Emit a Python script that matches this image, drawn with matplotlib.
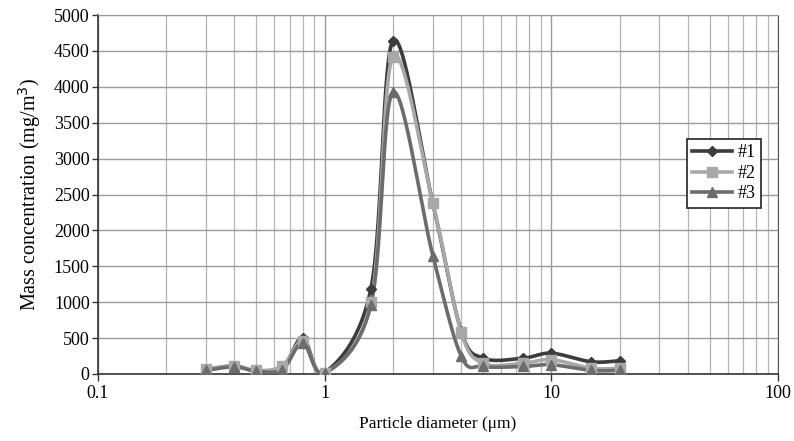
import numpy as np
import matplotlib
matplotlib.use("Agg")
import matplotlib.pyplot as plt
from matplotlib.lines import Line2D

diameters = [0.3, 0.4, 0.5, 0.65, 0.8, 1.0, 1.6, 2.0, 3.0, 4.0, 5.0, 7.5, 10, 15, 20]
series_1 = [60, 110, 40, 80, 500, 20, 1190, 4640, 2380, 600, 220, 220, 290, 170, 185]
series_2 = [70, 115, 50, 110, 460, 20, 1000, 4420, 2380, 590, 150, 150, 200, 80, 80]
series_3 = [50, 100, 40, 60, 430, 10, 960, 3925, 1650, 250, 105, 105, 130, 50, 50]
labels = ["#1", "#2", "#3"]
colors = ["#3c3c3c", "#a8a8a8", "#6c6c6c"]
markers = ["D", "s", "^"]

plt.rcParams['font.family'] = ['Liberation Serif', 'DejaVu Serif']

W, H = 7.94, 4.41
AX = [98 / 794, 1 - 374 / 441, 680 / 794, 359 / 441]
fig = plt.figure(figsize=(W, H), dpi=100)
ax = fig.add_axes(AX)
ax.set_xscale('log')
ax.set_xlim(0.1, 100)
ax.set_ylim(0, 5000)

ASPECT = (AX[3] * H) / (AX[2] * W)


def smooth(xs, ys, n=30):
    # Excel-like smoothing: Bezier segments with control points (p2-p0)/6
    lx = np.log10(np.asarray(xs, float))
    y = np.asarray(ys, float)
    sx = (lx + 1) / 3.0
    sy = y / 5000.0 * ASPECT
    P = np.column_stack([sx, sy])
    out = []
    for i in range(len(P) - 1):
        p0 = P[i - 1] if i > 0 else P[i]
        p1 = P[i]
        p2 = P[i + 1]
        p3 = P[i + 2] if i + 2 < len(P) else P[i + 1]
        b0 = p1
        b1 = p1 + (p2 - p0) / 6.0
        b2 = p2 - (p3 - p1) / 6.0
        b3 = p2
        tt = np.linspace(0, 1, n, endpoint=(i == len(P) - 2))[:, None]
        seg = ((1 - tt) ** 3) * b0 + 3 * ((1 - tt) ** 2) * tt * b1 + 3 * (1 - tt) * tt ** 2 * b2 + tt ** 3 * b3
        out.append(seg)
    S = np.vstack(out)
    X = 10 ** (S[:, 0] * 3.0 - 1)
    Y = S[:, 1] / ASPECT * 5000.0
    return X, Y


handles = []
for ys, lab, c, m in zip([series_1, series_2, series_3], labels, colors, markers):
    X, Y = smooth(diameters, ys)
    ax.plot(X, Y, color=c, lw=2.6, zorder=3, solid_capstyle='round')
    ms = 5.5 if m == 'D' else 7
    ax.plot(diameters, ys, linestyle='none', marker=m, color=c, ms=ms, zorder=4)
    handles.append(Line2D([0], [0], color=c, lw=2.6, marker=m, ms=ms))

ax.set_yticks(np.arange(0, 5001, 500))
ax.set_xticks([0.1, 1, 10, 100])
ax.set_xticklabels(["0.1", "1", "10", "100"])
ax.tick_params(axis='both', labelsize=13, direction='out', color='#333333', width=1.0)
ax.tick_params(axis='y', length=4, pad=2)
ax.tick_params(axis='x', length=5, pad=3)
ax.tick_params(axis='x', which='minor', length=0)
ax.grid(True, which='major', color='#9a9a9a', lw=1.0)
ax.grid(True, which='minor', axis='x', color='#b5b5b5', lw=0.9)
ax.set_axisbelow(True)
ax.spines['top'].set_color('#9a9a9a')
ax.spines['right'].set_color('#555555')
for s in ['left', 'bottom']:
    ax.spines[s].set_color('#333333')
    ax.spines[s].set_linewidth(1.2)

ax.set_xlabel("Particle diameter (μm)", fontsize=12.5, labelpad=10)
ax.set_ylabel("Mass concentration (mg/m$^3$)", fontsize=14.5, labelpad=8)

leg = ax.legend(handles, labels, loc='upper left', bbox_to_anchor=(0.866, 0.655),
                fontsize=13, frameon=True, fancybox=False, edgecolor='#222222',
                framealpha=1, handlelength=2.2, borderpad=0.3, labelspacing=0.2,
                handletextpad=0.3, borderaxespad=0)
leg.get_frame().set_linewidth(1.2)

fig.savefig("out.png", dpi=100)
